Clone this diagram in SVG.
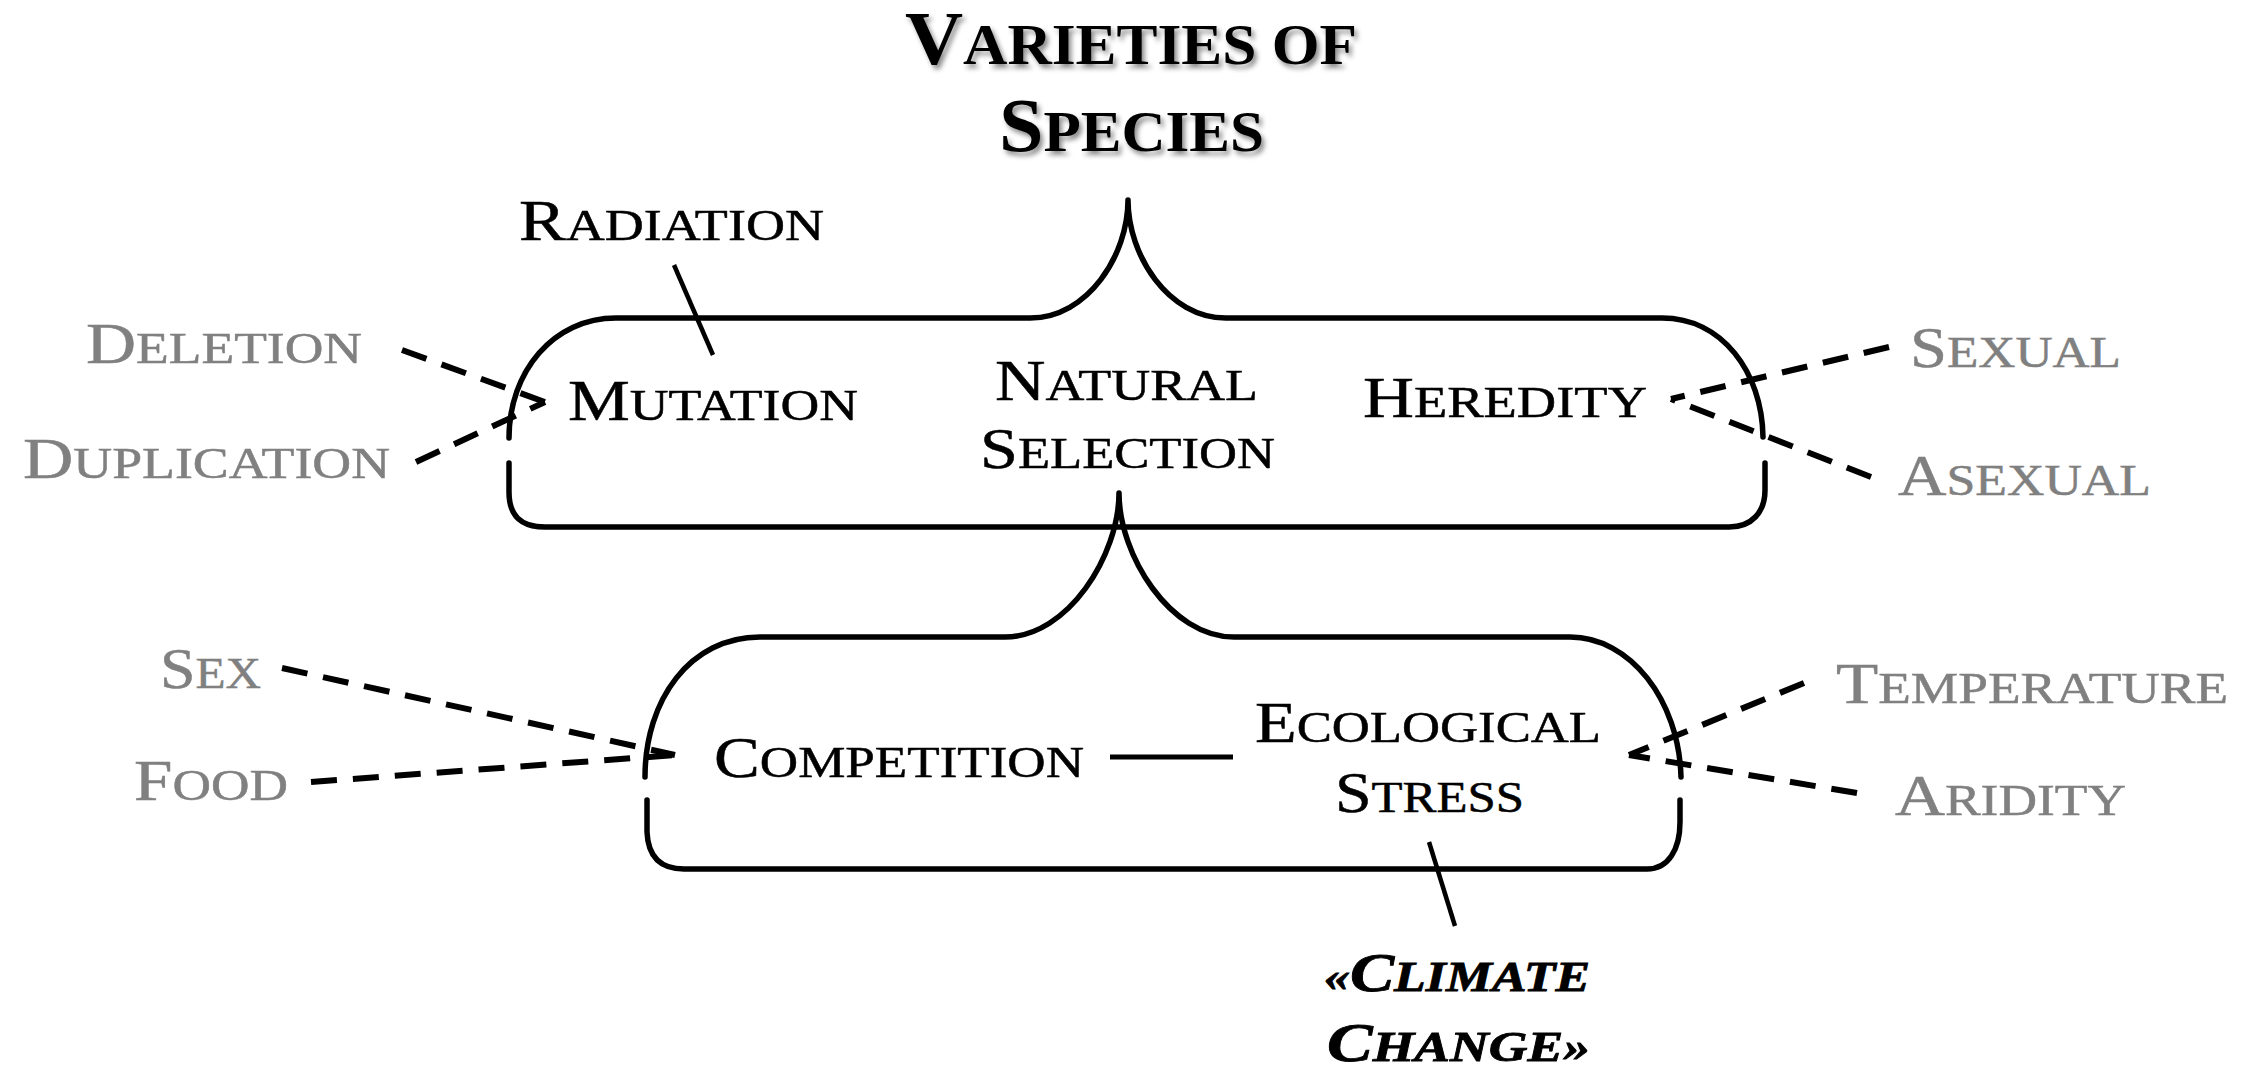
<svg xmlns="http://www.w3.org/2000/svg" width="2247" height="1080" viewBox="0 0 2247 1080">
<style>
.lbl{font-family:"Liberation Serif","Times New Roman",serif;fill:#000;stroke:#000;stroke-width:0.5;}
.gray{fill:#808080;stroke:#808080;}
.big{font-size:57px;}
.sm{font-size:44px;}
.ttl{font-family:"Liberation Serif","Times New Roman",serif;font-weight:bold;fill:#000;filter:url(#shadow);}
.tb{font-size:76px;}
.ts{font-size:58px;}
.clim{font-family:"Liberation Serif","Times New Roman",serif;font-weight:bold;font-style:italic;fill:#000;stroke:#000;stroke-width:0.8;}
.cb{font-size:55px;}
.cs{font-size:43px;}
.box{fill:none;stroke:#000;stroke-width:5.5;stroke-linecap:round;stroke-linejoin:round;}
.dash{fill:none;stroke:#000;stroke-width:6;stroke-dasharray:26 16;}
.solid{fill:none;stroke:#000;stroke-width:4.5;}
</style>
<defs>
<filter id="shadow" x="-10%" y="-20%" width="130%" height="160%">
<feDropShadow dx="3" dy="4" stdDeviation="2.5" flood-color="#000" flood-opacity="0.45"/>
</filter>
</defs>
<rect width="2247" height="1080" fill="#fff"/>

<g id="title">
<text class="ttl" x="905" y="64" textLength="452" lengthAdjust="spacingAndGlyphs"><tspan class="tb">V</tspan><tspan class="ts">ARIETIES OF</tspan></text>
<text class="ttl" x="999" y="151" textLength="265" lengthAdjust="spacingAndGlyphs"><tspan class="tb">S</tspan><tspan class="ts">PECIES</tspan></text>
</g>

<g id="upper-box">
<path class="box" d="M509,438 C509,372 553,318 616,318 L1030,318 C1088,318 1128,255 1128,200 C1128,255 1168,318 1226,318 L1662,318 C1722,318 1762,372 1763,437"/>
<path class="box" d="M509,463 L509,492 C509,515 520,527 545,527 L1729,527 C1752,527 1765,512 1765,490 L1765,463"/>
</g>

<g id="lower-box">
<path class="box" d="M645,777 C645,700 690,637 760,637 L1005,637 C1068,637 1119,555 1119,493 C1119,555 1170,637 1234,637 L1570,637 C1630,637 1679,700 1681,777"/>
<path class="box" d="M647,800 L647,832 C648,856 660,869 684,869 L1647,869 C1668,869 1680,850 1680,822 L1680,800"/>
</g>

<g id="connectors">
<line class="solid" x1="674" y1="265" x2="713" y2="355"/>
<line class="dash" x1="402" y1="350" x2="545" y2="402"/>
<line class="dash" x1="416" y1="462" x2="545" y2="402"/>
<line class="dash" x1="1889" y1="347" x2="1671" y2="399"/>
<line class="dash" x1="1871" y1="477" x2="1671" y2="399"/>
<line class="dash" x1="282" y1="668" x2="675" y2="755"/>
<line class="dash" x1="311" y1="782" x2="675" y2="755"/>
<line class="dash" x1="1804" y1="683" x2="1629" y2="755"/>
<line class="dash" x1="1857" y1="793" x2="1629" y2="755"/>
<line class="solid" style="stroke-width:5" x1="1110" y1="757" x2="1233" y2="757"/>
<line class="solid" x1="1429" y1="842" x2="1455" y2="926"/>
</g>

<g id="radiation"><text class="lbl" x="519" y="240" textLength="305" lengthAdjust="spacingAndGlyphs"><tspan class="big">R</tspan><tspan class="sm">ADIATION</tspan></text></g>
<g id="deletion"><text class="lbl gray" x="86" y="363" textLength="276" lengthAdjust="spacingAndGlyphs"><tspan class="big">D</tspan><tspan class="sm">ELETION</tspan></text></g>
<g id="duplication"><text class="lbl gray" x="23" y="478" textLength="367" lengthAdjust="spacingAndGlyphs"><tspan class="big">D</tspan><tspan class="sm">UPLICATION</tspan></text></g>
<g id="mutation"><text class="lbl" x="568" y="420" textLength="290" lengthAdjust="spacingAndGlyphs"><tspan class="big">M</tspan><tspan class="sm">UTATION</tspan></text></g>
<g id="natural-selection">
<text class="lbl" x="995" y="400" textLength="263" lengthAdjust="spacingAndGlyphs"><tspan class="big">N</tspan><tspan class="sm">ATURAL</tspan></text>
<text class="lbl" x="980" y="468" textLength="295" lengthAdjust="spacingAndGlyphs"><tspan class="big">S</tspan><tspan class="sm">ELECTION</tspan></text>
</g>
<g id="heredity"><text class="lbl" x="1363" y="417" textLength="284" lengthAdjust="spacingAndGlyphs"><tspan class="big">H</tspan><tspan class="sm">EREDITY</tspan></text></g>
<g id="sexual"><text class="lbl gray" x="1910" y="367" textLength="211" lengthAdjust="spacingAndGlyphs"><tspan class="big">S</tspan><tspan class="sm">EXUAL</tspan></text></g>
<g id="asexual"><text class="lbl gray" x="1898" y="495" textLength="253" lengthAdjust="spacingAndGlyphs"><tspan class="big">A</tspan><tspan class="sm">SEXUAL</tspan></text></g>
<g id="sex"><text class="lbl gray" x="160" y="688" textLength="101" lengthAdjust="spacingAndGlyphs"><tspan class="big">S</tspan><tspan class="sm">EX</tspan></text></g>
<g id="food"><text class="lbl gray" x="134" y="800" textLength="154" lengthAdjust="spacingAndGlyphs"><tspan class="big">F</tspan><tspan class="sm">OOD</tspan></text></g>
<g id="competition"><text class="lbl" x="714" y="777" textLength="370" lengthAdjust="spacingAndGlyphs"><tspan class="big">C</tspan><tspan class="sm">OMPETITION</tspan></text></g>
<g id="ecological-stress">
<text class="lbl" x="1255" y="742" textLength="346" lengthAdjust="spacingAndGlyphs"><tspan class="big">E</tspan><tspan class="sm">COLOGICAL</tspan></text>
<text class="lbl" x="1335" y="812" textLength="189" lengthAdjust="spacingAndGlyphs"><tspan class="big">S</tspan><tspan class="sm">TRESS</tspan></text>
</g>
<g id="temperature"><text class="lbl gray" x="1836" y="703" textLength="392" lengthAdjust="spacingAndGlyphs"><tspan class="big">T</tspan><tspan class="sm">EMPERATURE</tspan></text></g>
<g id="aridity"><text class="lbl gray" x="1895" y="815" textLength="231" lengthAdjust="spacingAndGlyphs"><tspan class="big">A</tspan><tspan class="sm">RIDITY</tspan></text></g>
<g id="climate-change">
<text class="clim" x="1324" y="991" textLength="266" lengthAdjust="spacingAndGlyphs"><tspan class="cs">«</tspan><tspan class="cb">C</tspan><tspan class="cs">LIMATE</tspan></text>
<text class="clim" x="1327" y="1061" textLength="263" lengthAdjust="spacingAndGlyphs"><tspan class="cb">C</tspan><tspan class="cs">HANGE»</tspan></text>
</g>
</svg>
